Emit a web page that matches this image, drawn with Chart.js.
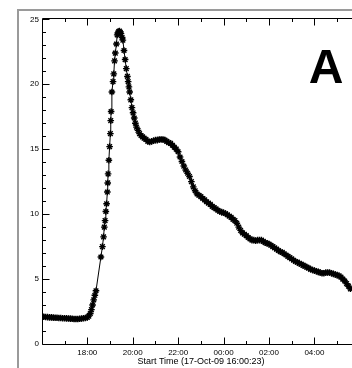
<!DOCTYPE html>
<html>
<head>
<meta charset="utf-8">
<script src="https://cdn.jsdelivr.net/npm/chart.js@4"></script>
<style>
  html, body { margin: 0; padding: 0; background: #fff; overflow: hidden; }
  #frame { position: absolute; left: 17px; top: 9px; width: 500px; height: 500px;
           border-left: 2px solid #9a9a9a; border-top: 2px solid #9a9a9a; }
  #wrap { position: absolute; left: 0; top: 0; width: 400px; height: 368px; }
</style>
</head>
<body>
<div id="frame"></div>
<div id="wrap"><canvas id="lc" width="400" height="368"></canvas></div>
<script>
// light curve, start time 17-Oct-09 16:00:23
const TIMES = [
  '16:01','16:05','16:10','16:15','16:20','16:25','16:30','16:35',
  '16:40','16:45','16:50','16:55','17:00','17:05','17:10','17:15',
  '17:20','17:25','17:30','17:35','17:40','17:45','17:50','17:55',
  '18:00','18:04','18:08','18:11','18:14','18:17','18:20','18:23',
  '18:36','18:40','18:43','18:45','18:47','18:49','18:51','18:53',
  '18:54','18:55','18:57','18:59','19:01','19:02','19:03','19:05',
  '19:08','19:10','19:12','19:14','19:17','19:19','19:21','19:23',
  '19:25','19:27','19:29','19:32','19:34','19:37','19:40','19:43',
  '19:46','19:48','19:50','19:52','19:55','19:58','20:01','20:04',
  '20:07','20:10','20:14','20:18','20:22','20:26','20:30','20:35',
  '20:40','20:45','20:50','20:55','21:00','21:05','21:10','21:15',
  '21:20','21:25','21:30','21:35','21:40','21:45','21:50','21:55',
  '22:00','22:05','22:10','22:15','22:20','22:25','22:30','22:35',
  '22:40','22:45','22:50','22:55','23:00','23:05','23:10','23:15',
  '23:20','23:25','23:30','23:35','23:40','23:45','23:50','23:55',
  '00:00','00:05','00:10','00:15','00:20','00:25','00:30','00:35',
  '00:40','00:45','00:50','00:55','01:00','01:05','01:10','01:15',
  '01:20','01:25','01:30','01:35','01:40','01:45','01:50','01:55',
  '02:00','02:05','02:10','02:15','02:20','02:25','02:30','02:35',
  '02:40','02:45','02:50','02:55','03:00','03:05','03:10','03:15',
  '03:20','03:25','03:30','03:35','03:40','03:45','03:50','03:55',
  '04:00','04:05','04:10','04:15','04:20','04:25','04:30','04:35',
  '04:40','04:45','04:50','04:55','05:00','05:05','05:10','05:15',
  '05:20','05:25','05:30','05:35'
];
const FLUX = [
  2.10, 2.10, 2.08, 2.07, 2.05, 2.05, 2.03, 2.02,
  2.02, 2.00, 2.00, 1.98, 1.98, 1.97, 1.96, 1.95,
  1.94, 1.93, 1.92, 1.92, 1.94, 1.96, 1.98, 2.00,
  2.05, 2.15, 2.35, 2.65, 3.00, 3.40, 3.75, 4.10,
  6.70, 7.50, 8.25, 9.00, 9.50, 10.2, 10.8, 11.7,
  12.4, 13.1, 14.15, 15.2, 16.2, 17.2, 17.9, 19.4,
  20.2, 20.8, 21.8, 22.4, 23.1, 23.8, 23.95, 24.05,
  24.1, 24.0, 23.9, 23.6, 23.4, 22.6, 21.9, 21.2,
  20.6, 20.2, 19.8, 19.4, 18.8, 18.2, 17.8, 17.4,
  17.0, 16.7, 16.45, 16.2, 16.05, 15.95, 15.85, 15.75,
  15.6, 15.55, 15.6, 15.65, 15.7, 15.7, 15.75, 15.75,
  15.75, 15.7, 15.6, 15.5, 15.45, 15.3, 15.15, 15.0,
  14.8, 14.4, 14.05, 13.7, 13.4, 13.15, 12.9, 12.5,
  12.1, 11.8, 11.55, 11.45, 11.35, 11.2, 11.1, 10.95,
  10.85, 10.75, 10.6, 10.5, 10.4, 10.3, 10.2, 10.15,
  10.1, 10.05, 9.95, 9.85, 9.75, 9.6, 9.5, 9.3,
  9.0, 8.75, 8.55, 8.45, 8.35, 8.2, 8.1, 8.0,
  8.0, 7.95, 8.0, 8.0, 8.0, 7.9, 7.8, 7.75,
  7.7, 7.6, 7.5, 7.4, 7.3, 7.2, 7.1, 7.05,
  6.95, 6.85, 6.75, 6.65, 6.55, 6.45, 6.35, 6.3,
  6.2, 6.15, 6.05, 6.0, 5.9, 5.85, 5.75, 5.7,
  5.65, 5.6, 5.55, 5.5, 5.45, 5.45, 5.5, 5.5,
  5.5, 5.45, 5.4, 5.35, 5.3, 5.25, 5.15, 5.0,
  4.85, 4.65, 4.45, 4.25
];

const X_TICKS = [18, 20, 22, 24, 26, 28];
const X_LABELS = ['18:00', '20:00', '22:00', '00:00', '02:00', '04:00'];
const Y_TICKS = [0, 5, 10, 15, 20, 25];
const X_TITLE = 'Start Time (17-Oct-09 16:00:23)';
const PANEL = 'A';

const START = 16 + 23 / 3600;   // hours, 16:00:23
const SPAN = 14;

// clock string -> hours counted from 00:00 of the start day
function toHours(t) {
  let [h, m] = t.split(':').map(Number);
  if (h < 16) h += 24;
  return h + m / 60;
}
const points = TIMES.map((t, i) => ({ x: toHours(t), y: FLUX[i] }));

// IDL style box with inward ticks and the panel letter
const idlAxes = {
  id: 'idlAxes',
  afterDraw(chart) {
    const { ctx, chartArea: a, scales: { x, y } } = chart;
    ctx.save();
    ctx.strokeStyle = '#000';
    ctx.lineWidth = 1;
    const L = Math.round(a.left) + 0.5, R = Math.round(a.right) - 0.5;
    const T = Math.round(a.top) + 0.5, B = Math.round(a.bottom) + 0.5;
    ctx.beginPath();
    ctx.moveTo(L, T); ctx.lineTo(R, T); ctx.lineTo(R, B); ctx.lineTo(L, B); ctx.closePath();
    for (let v = 0; v <= 25; v++) {
      const len = v % 5 === 0 ? 7 : 3.5;
      const py = Math.round(y.getPixelForValue(v)) + 0.5;
      ctx.moveTo(L, py); ctx.lineTo(L + len, py);
      ctx.moveTo(R, py); ctx.lineTo(R - len, py);
    }
    for (let h = 17; h <= 29; h++) {
      const len = X_TICKS.includes(h) ? 7 : 3.5;
      const px = Math.round(x.getPixelForValue(h)) + 0.5;
      ctx.moveTo(px, B); ctx.lineTo(px, B - len);
      ctx.moveTo(px, T); ctx.lineTo(px, T + len);
    }
    ctx.stroke();
    ctx.fillStyle = '#000';
    ctx.font = 'bold 48px "Liberation Sans", Arial, sans-serif';
    ctx.textAlign = 'center';
    ctx.textBaseline = 'alphabetic';
    ctx.fillText(PANEL, 326, 83);
    ctx.restore();
  }
};

new Chart(document.getElementById('lc'), {
  type: 'line',
  data: {
    datasets: [{
      data: points,
      borderColor: '#000',
      borderWidth: 1,
      pointStyle: 'star',
      pointRadius: 3.3,
      pointBorderColor: '#000',
      pointBorderWidth: 1.4,
      tension: 0
    }]
  },
  options: {
    responsive: false,
    animation: false,
    layout: { padding: { top: 18, right: 40, left: 0, bottom: 0 } },
    plugins: { legend: { display: false }, tooltip: { enabled: false } },
    scales: {
      x: {
        type: 'linear',
        min: START,
        max: START + SPAN,
        grid: { display: false, drawTicks: false },
        border: { display: false },
        afterBuildTicks: s => { s.ticks = X_TICKS.map(v => ({ value: v })); },
        afterFit: s => { s.height = 24; },
        ticks: {
          padding: 4,
          maxRotation: 0,
          color: '#000',
          font: { family: '"Liberation Sans", Arial, sans-serif', size: 8 },
          callback: v => X_LABELS[X_TICKS.indexOf(v)]
        },
        title: {
          display: true,
          text: X_TITLE,
          color: '#000',
          font: { family: '"Liberation Sans", Arial, sans-serif', size: 9 },
          padding: { top: 0, bottom: 1.2 }
        }
      },
      y: {
        min: 0,
        max: 25.1,
        grid: { display: false, drawTicks: false },
        border: { display: false },
        afterBuildTicks: s => { s.ticks = Y_TICKS.map(v => ({ value: v })); },
        afterFit: s => { s.width = 42; },
        ticks: {
          padding: 3,
          color: '#000',
          font: { family: '"Liberation Sans", Arial, sans-serif', size: 8 }
        }
      }
    }
  },
  plugins: [idlAxes]
});
</script>
</body>
</html>
